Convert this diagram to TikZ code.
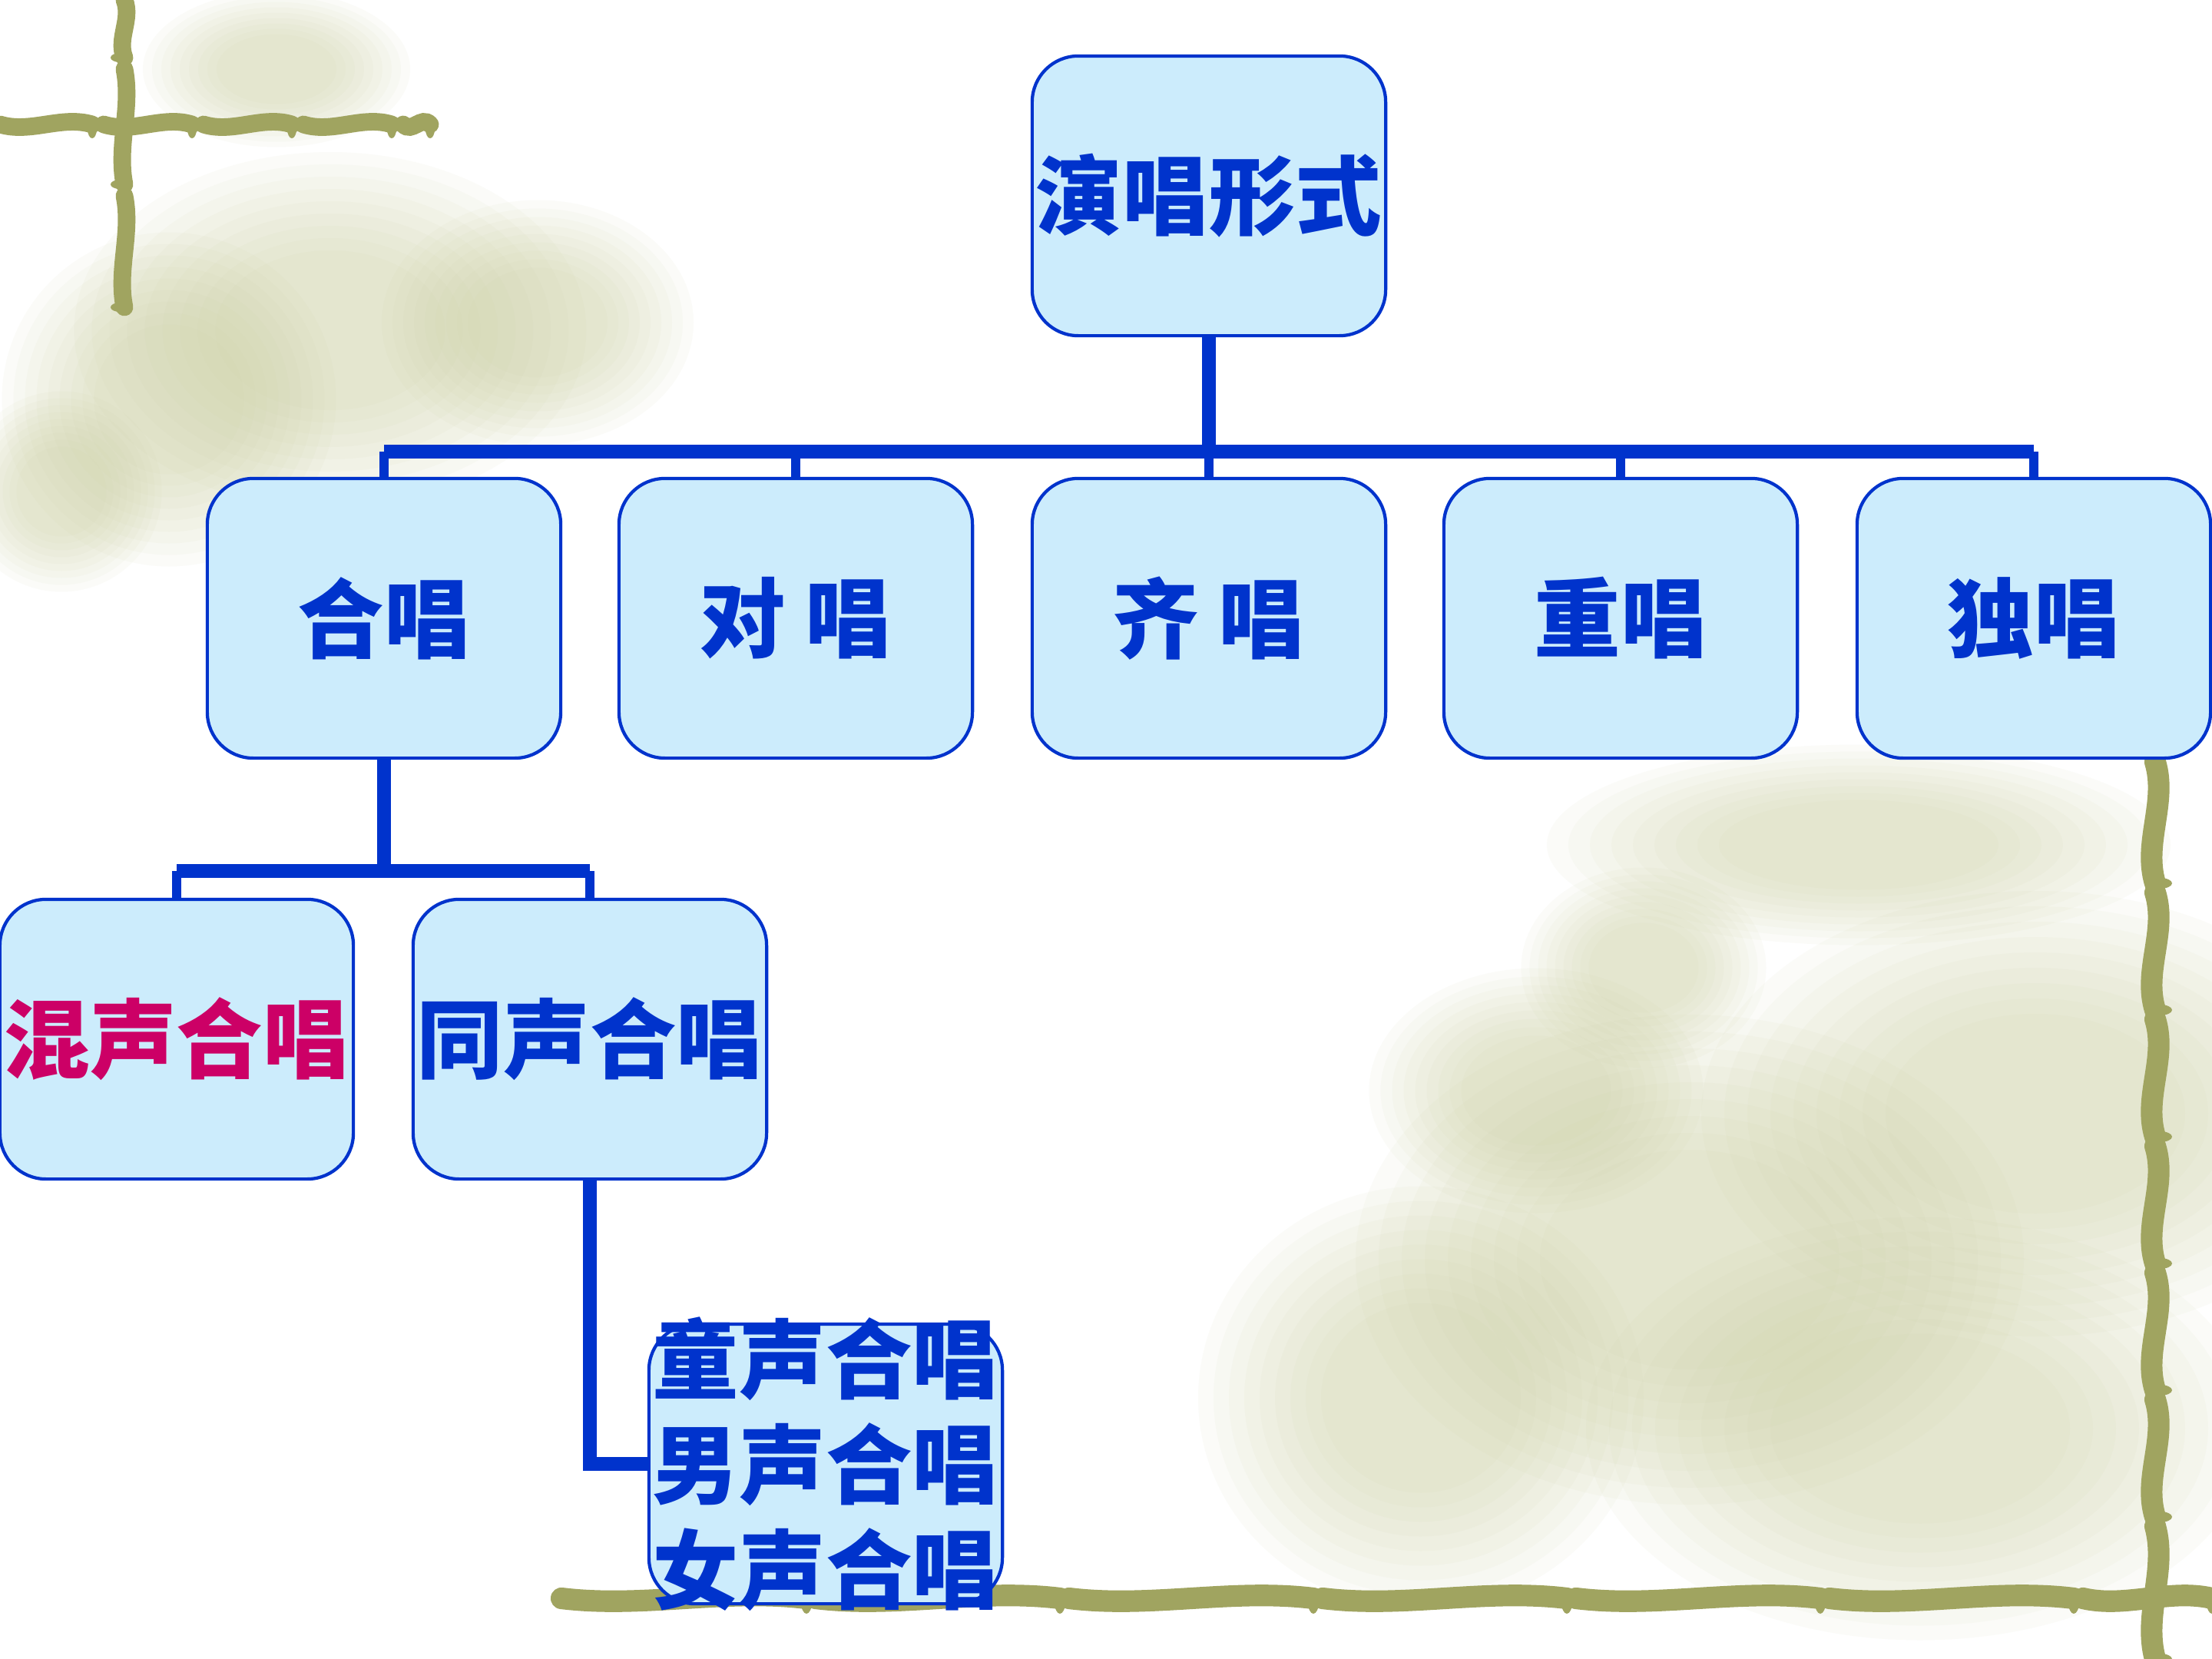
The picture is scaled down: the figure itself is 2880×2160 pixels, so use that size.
\documentclass[tikz,border=0pt]{standalone}
\usepackage{fontspec}
\newfontfamily\cjk{Noto Sans CJK SC}
\definecolor{boxfill}{HTML}{CCECFC}
\definecolor{boxline}{HTML}{0033CC}
\definecolor{txtblue}{HTML}{0033CC}
\definecolor{txtred}{HTML}{CC0066}
\definecolor{bamboo}{HTML}{A0A460}
\definecolor{blobc}{HTML}{CBCF9F}
\tikzset{
  box/.style={draw=boxline, line width=1.2pt, fill=boxfill, rounded corners=0.6cm,
    minimum width=4.6cm, minimum height=3.64cm, inner sep=0pt,
    font=\cjk\bfseries\fontsize{32}{39}\selectfont, text=txtblue, align=center},
  boxtext/.style={inner sep=0pt, font=\cjk\bfseries\fontsize{32}{39}\selectfont, text=txtblue, align=center},
  bus/.style={draw=boxline, line width=5pt, line join=miter},
  drop/.style={draw=boxline, line width=3.6pt},
  bam/.style={draw=bamboo, line width=6.5pt, line cap=round},
  knob/.style={fill=bamboo},
}
\begin{document}
\begin{tikzpicture}[x=0.01cm,y=-0.01cm]
\fill[white] (0,0) rectangle (2880,2160);
\useasboundingbox (0,0) rectangle (2880,2160);
% blurred background blossoms
\foreach \x/\y/\a/\b in {360/90/120/70, 430/430/230/160, 220/520/150/150, 700/420/140/110, 80/640/90/90,
  2420/1100/280/90, 2140/1260/110/90, 2650/1450/300/200, 2200/1640/300/220, 1850/1820/200/190, 2500/1860/300/190, 2000/1420/150/110}
  {\foreach \s in {1.45,1.35,1.25,1.15,1.05,0.95,0.85,0.75,0.65}
    \fill[blobc,opacity=0.065] (\x,\y) ellipse ({\a*\s*0.01cm} and {\b*\s*0.01cm});}
% bamboo decorations
\foreach \a/\b in {0/120,135/250,265/380,395/510,525/560}
  {\draw[bam] (\a,162) .. controls ({\a+(\b-\a)/3},174) and ({\b-(\b-\a)/3},150) .. (\b,162);
   \fill[knob] (\b,168) ellipse (0.06cm and 0.12cm);}
\foreach \a/\b in {0/75,90/240,255/400}
  {\draw[bam] (162,\a) .. controls (172,{\a+(\b-\a)/3}) and (152,{\b-(\b-\a)/3}) .. (162,\b);
   \fill[knob] (156,\b) ellipse (0.12cm and 0.06cm);}
\foreach \a/\b in {992/1150,1162/1315,1327/1480,1492/1645,1657/1810,1822/1975,1987/2160}
  {\draw[bam,line width=8pt] (2806,\a) .. controls (2822,{\a+(\b-\a)/3}) and (2790,{\b-(\b-\a)/3}) .. (2806,\b);
   \fill[knob] (2812,\b) ellipse (0.16cm and 0.07cm);}
\foreach \a/\b in {731/1050,1062/1380,1392/1710,1722/2040,2052/2370,2382/2700,2712/2880}
  {\draw[bam,line width=8pt] (\a,2081) .. controls ({\a+(\b-\a)/3},2094) and ({\b-(\b-\a)/3},2068) .. (\b,2081);
   \fill[knob] (\b,2086) ellipse (0.07cm and 0.15cm);}
% nodes
\node[box] (top) at (1574,255) {演唱形式};
\node[box] (hc) at (500,805) {合唱};
\node[box] (dc) at (1036,805) {对 唱};
\node[box] (qc) at (1574,805) {齐 唱};
\node[box] (cc) at (2110,805) {重唱};
\node[box] (dsc) at (2648,805) {独唱};
\node[box, text=txtred] (hs) at (230,1353) {混声合唱};
\node[box] (ts) at (768,1353) {同声合唱};
\node[box] (sub) at (1075,1906) {};
\node[boxtext] (subtext) at (sub.center) {童声合唱\\男声合唱\\女声合唱};
% connectors
\draw[bus] (top.south) -- ++(0,149) coordinate (busA);
\draw[bus] (hc.north |- busA) -- (dsc.north |- busA);
\draw[drop] (hc.north) -- (hc.north |- busA);
\draw[drop] (dc.north) -- (dc.north |- busA);
\draw[drop] (qc.north) -- (qc.north |- busA);
\draw[drop] (cc.north) -- (cc.north |- busA);
\draw[drop] (dsc.north) -- (dsc.north |- busA);
\draw[bus] (hc.south) -- ++(0,145) coordinate (busB);
\draw[bus] (hs.north |- busB) -- (ts.north |- busB);
\draw[drop] (hs.north) -- (hs.north |- busB);
\draw[drop] (ts.north) -- (ts.north |- busB);
\draw[bus] (ts.south) |- (sub.west);
\end{tikzpicture}
\end{document}
